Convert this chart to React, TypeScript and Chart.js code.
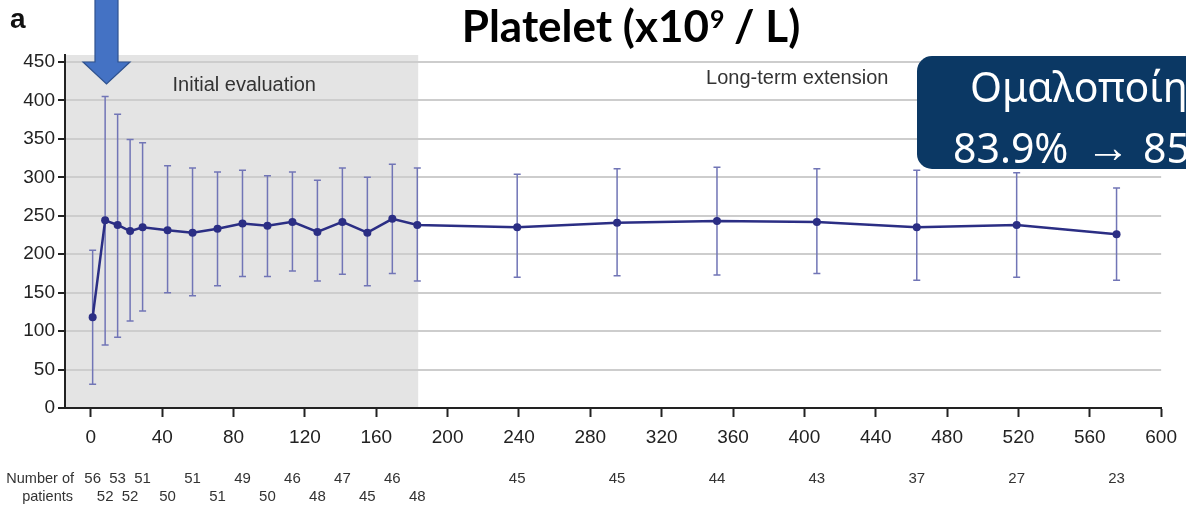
import React, { useEffect, useRef } from 'react';
import { Chart, registerables } from 'chart.js';

Chart.register(...registerables);

// Study day of each visit (week 0..26 then long-term extension)
const days = [1, 8, 15, 22, 29, 43, 57, 71, 85, 99, 113, 127, 141, 155, 169, 183, 239, 295, 351, 407, 463, 519, 575];
// Mean platelet count (x10^9/L)
const means = [118, 244, 238, 230, 235, 231, 228, 233, 240, 237, 242, 229, 242, 228, 246, 238, 235, 241, 243, 242, 235, 238, 226];
// Upper / lower end of the error bars
const upper = [205, 405, 382, 349, 345, 315, 312, 307, 309, 302, 307, 296, 312, 300, 317, 312, 304, 311, 313, 311, 309, 306, 286];
const lower = [31, 82, 92, 113, 126, 150, 146, 159, 171, 171, 178, 165, 174, 159, 175, 165, 170, 172, 173, 175, 166, 170, 166];
// Number of patients at each visit
const patients = [56, 52, 53, 52, 51, 50, 51, 51, 49, 50, 46, 48, 47, 45, 46, 48, 45, 45, 44, 43, 37, 27, 23];

const xTicks = [0, 40, 80, 120, 160, 200, 240, 280, 320, 360, 400, 440, 480, 520, 560, 600];
const yTicks = [0, 50, 100, 150, 200, 250, 300, 350, 400, 450];

const initialPhaseEnd = 183.5;
const FONT = 'Liberation Sans, Arial, sans-serif';

export default function App() {
  const ref = useRef<HTMLCanvasElement>(null);

  useEffect(() => {
    const canvas = ref.current;
    if (!canvas) return;

    const overlay = {
      id: 'overlay',
      beforeDraw(chart: any) {
        const { ctx, chartArea } = chart;
        const xs = chart.scales.x;
        ctx.save();
        ctx.fillStyle = '#e4e4e4';
        const xr = xs.getPixelForValue(initialPhaseEnd);
        ctx.fillRect(chartArea.left, chartArea.top, xr - chartArea.left, chartArea.bottom - chartArea.top);
        ctx.restore();
      },
      beforeDatasetsDraw(chart: any) {
        const { ctx } = chart;
        const xs = chart.scales.x;
        const ys = chart.scales.y;
        ctx.save();
        ctx.strokeStyle = '#7175b6';
        ctx.lineWidth = 1.5;
        for (let i = 0; i < days.length; i++) {
          const px = xs.getPixelForValue(days[i]);
          const top = ys.getPixelForValue(upper[i]);
          const bot = ys.getPixelForValue(lower[i]);
          ctx.beginPath();
          ctx.moveTo(px, top);
          ctx.lineTo(px, bot);
          ctx.moveTo(px - 3.5, top);
          ctx.lineTo(px + 3.5, top);
          ctx.moveTo(px - 3.5, bot);
          ctx.lineTo(px + 3.5, bot);
          ctx.stroke();
        }
        ctx.restore();
      },
      afterDraw(chart: any) {
        const { ctx } = chart;
        const xs = chart.scales.x;
        const ys = chart.scales.y;
        ctx.save();

        // phase labels
        ctx.fillStyle = '#333';
        ctx.font = `20px ${FONT}`;
        ctx.textAlign = 'center';
        ctx.textBaseline = 'middle';
        ctx.fillText('Initial evaluation', xs.getPixelForValue(86), ys.getPixelForValue(419));
        ctx.fillText('Long-term extension', xs.getPixelForValue(396), ys.getPixelForValue(428));

        // number of patients
        ctx.font = `14.5px ${FONT}`;
        ctx.textAlign = 'right';
        ctx.fillText('Number of', 74, 479);
        ctx.fillText('patients', 73, 497);
        ctx.textAlign = 'center';
        ctx.font = `15px ${FONT}`;
        for (let i = 0; i < days.length; i++) {
          const second = i < 16 && i % 2 === 1;
          ctx.fillText(String(patients[i]), xs.getPixelForValue(days[i]), second ? 497 : 479);
        }

        // panel letter
        ctx.fillStyle = '#111';
        ctx.textAlign = 'left';
        ctx.textBaseline = 'alphabetic';
        ctx.font = `bold 28px ${FONT}`;
        ctx.fillText('a', 10, 28);

        // title
        ctx.fillStyle = '#000';
        const t1 = 'Platelet (x10';
        const t2 = ' / L)';
        ctx.font = 'bold 44px Lato, sans-serif';
        const w1 = ctx.measureText(t1).width;
        const w3 = ctx.measureText(t2).width;
        ctx.font = 'bold 25px Lato, sans-serif';
        const w2 = ctx.measureText('9').width;
        const start = 631 - (w1 + w2 + w3) / 2;
        ctx.font = 'bold 44px Lato, sans-serif';
        ctx.fillText(t1, start, 42);
        ctx.fillText(t2, start + w1 + w2, 42);
        ctx.font = 'bold 25px Lato, sans-serif';
        ctx.fillText('9', start + w1 + 1, 28);

        // blue arrow
        ctx.beginPath();
        ctx.moveTo(95, -2);
        ctx.lineTo(118, -2);
        ctx.lineTo(118, 62);
        ctx.lineTo(130, 62);
        ctx.lineTo(106.5, 84);
        ctx.lineTo(83, 62);
        ctx.lineTo(95, 62);
        ctx.closePath();
        ctx.fillStyle = '#4472c4';
        ctx.fill();
        ctx.strokeStyle = '#2f528f';
        ctx.lineWidth = 1.2;
        ctx.stroke();

        // dark box
        ctx.beginPath();
        (ctx as any).roundRect(917, 56, 320, 113, 15);
        ctx.fillStyle = '#0b3864';
        ctx.fill();
        ctx.fillStyle = '#ffffff';
        ctx.font = '41px "Noto Sans", sans-serif';
        ctx.fillText('Ομαλοποίη', 970, 102);
        ctx.fillText('83.9%', 953, 163);
        ctx.fillText('85', 1143, 163);
        const aw = ctx.measureText('→').width;
        const asz = (41 * 44) / aw;
        ctx.font = `${asz}px "Noto Sans", sans-serif`;
        ctx.textBaseline = 'middle';
        ctx.fillText('→', 1086, 149);

        ctx.restore();
      },
    };

    const chart = new Chart(canvas, {
      type: 'line',
      data: {
        datasets: [
          {
            data: days.map((d, i) => ({ x: d, y: means[i] })),
            borderColor: '#2b2e84',
            backgroundColor: '#2b2e84',
            pointBackgroundColor: '#2b2e84',
            pointBorderColor: '#2b2e84',
            borderWidth: 2.5,
            pointRadius: 4,
            pointBorderWidth: 0,
            tension: 0,
          },
        ],
      },
      options: {
        responsive: false,
        animation: false,
        devicePixelRatio: 1,
        events: [],
        layout: { padding: { top: 55, right: 18, left: 0, bottom: 0 } },
        plugins: {
          legend: { display: false },
          tooltip: { enabled: false },
        },
        scales: {
          x: {
            type: 'linear',
            min: -14.5,
            max: 600,
            afterBuildTicks: (s: any) => {
              s.ticks = xTicks.map((v) => ({ value: v }));
            },
            afterFit: (s: any) => {
              s.height = 98;
            },
            ticks: {
              font: { family: FONT, size: 19 },
              color: '#222',
              padding: 9,
              maxRotation: 0,
              autoSkip: false,
            },
            grid: { drawOnChartArea: false, tickLength: 9, tickColor: '#222', tickWidth: 2 },
            border: { display: true, color: '#222', width: 2 },
          },
          y: {
            min: 0,
            max: 459,
            afterBuildTicks: (s: any) => {
              s.ticks = yTicks.map((v) => ({ value: v }));
            },
            afterFit: (s: any) => {
              s.width = 65;
            },
            ticks: {
              font: { family: FONT, size: 19 },
              color: '#222',
              padding: 3,
            },
            grid: {
              color: (c: any) => (c.tick && c.tick.value === 0 ? 'rgba(0,0,0,0)' : '#cdcdcd'),
              lineWidth: 2,
              tickColor: '#222',
              tickLength: 7,
              tickWidth: 2,
            },
            border: { display: true, color: '#222', width: 2 },
          },
        },
      },
      plugins: [overlay],
    } as any);

    return () => chart.destroy();
  }, []);

  return (
    <div style={{ position: 'absolute', left: 0, top: 0, width: 1186, height: 506, overflow: 'hidden', background: '#fff' }}>
      <canvas ref={ref} width={1186} height={506} style={{ display: 'block', width: 1186, height: 506 }} />
    </div>
  );
}
